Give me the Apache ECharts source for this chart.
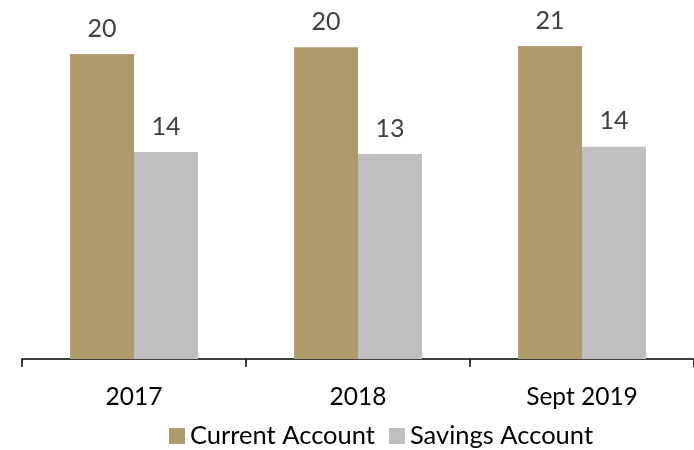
<!DOCTYPE html>
<html>
<head>
<meta charset="utf-8">
<script src="https://cdn.jsdelivr.net/npm/echarts@6/dist/echarts.min.js"></script>
<style>
  html, body { margin: 0; padding: 0; background: #fff; }
  #chart { width: 694px; height: 450px; }
</style>
</head>
<body>
<div id="chart"></div>
<script>
// categories and values
const categories = ["2017", "2018", "Sept 2019"];
const currentAccount = [20.0, 20.44, 20.52];
const savingsAccount = [13.57, 13.44, 13.92];
const seriesNames = ["Current Account", "Savings Account"];

const FONT = "Lato";
const GOLD = "#AF9B6B";
const GREY = "#BFBFBF";

const chart = echarts.init(document.getElementById("chart"));

// label shows the rounded value
const valueLabel = {
  show: true,
  position: "top",
  distance: 13,
  color: "#404040",
  fontFamily: FONT,
  fontSize: 25,
  formatter: p => Math.round(p.value)
};

chart.setOption({
  animation: false,
  grid: { left: 22, right: 0, top: 23.5, bottom: 91 },
  legend: {
    left: 169,
    top: 423,
    padding: 0,
    itemWidth: 16,
    itemHeight: 16,
    itemGap: 14,
    icon: "rect",
    textStyle: { fontFamily: FONT, fontSize: 25.5, color: "#000" },
    data: seriesNames
  },
  xAxis: {
    type: "category",
    data: categories,
    axisLine: { lineStyle: { color: "#000", width: 1.5 } },
    axisTick: { show: true, length: 8, lineStyle: { color: "#000", width: 1.5 } },
    axisLabel: { margin: 26, color: "#000", fontFamily: FONT, fontSize: 24.5 }
  },
  yAxis: {
    type: "value",
    min: 0,
    max: 22,
    show: false
  },
  series: [
    {
      name: seriesNames[0],
      type: "bar",
      data: currentAccount,
      barWidth: 64,
      barGap: "0%",
      itemStyle: { color: GOLD },
      label: valueLabel
    },
    {
      name: seriesNames[1],
      type: "bar",
      data: savingsAccount,
      barWidth: 64,
      barGap: "0%",
      itemStyle: { color: GREY },
      label: valueLabel
    }
  ]
});
</script>
</body>
</html>
